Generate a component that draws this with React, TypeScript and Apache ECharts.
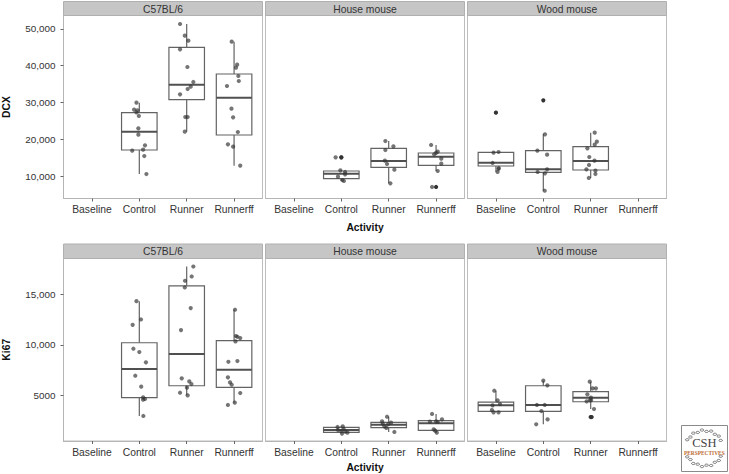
import React, { useEffect, useRef } from "react";
import * as echarts from "echarts";

const activities = ["Baseline", "Control", "Runner", "Runnerff"];
const strains = ["C57BL/6", "House mouse", "Wood mouse"];
const dcxTicks = [10000, 20000, 30000, 40000, 50000];
const dcxTickLabels = ["10,000", "20,000", "30,000", "40,000", "50,000"];
const ki67Ticks = [5000, 10000, 15000];
const ki67TickLabels = ["5000", "10,000", "15,000"];

// box rows: activity index, low whisker, q1, median, q3, high whisker
const dcxC57Boxes = [
  [1, 10540, 17070, 22060, 27230, 29950],
  [2, 22060, 30770, 34850, 45010, 51360],
  [3, 12810, 21160, 31310, 37750, 46550],
];
const dcxHouseBoxes = [
  [1, 8640, 9270, 10630, 11360, 11540],
  [2, 8000, 12360, 14080, 17530, 19520],
  [3, 11360, 12900, 15260, 16260, 18440],
];
const dcxWoodBoxes = [
  [0, 11090, 12720, 13630, 16440, 16530],
  [1, 6000, 11000, 11810, 16890, 21340],
  [2, 9460, 11630, 14080, 17980, 21790],
];
const ki67C57Boxes = [
  [1, 2960, 4770, 7600, 10200, 14310],
  [2, 5000, 5950, 9080, 15820, 17730],
  [3, 4280, 5790, 7530, 10400, 13460],
];
const ki67HouseBoxes = [
  [1, 1220, 1350, 1580, 1840, 1940],
  [2, 1380, 1810, 2100, 2330, 2890],
  [3, 1315, 1545, 2240, 2500, 3160],
];
const ki67WoodBoxes = [
  [0, 3320, 3420, 4010, 4340, 5460],
  [1, 2140, 3420, 4050, 5950, 6450],
  [2, 3650, 4370, 4770, 5360, 6350],
];

// jittered points: x position, value
const dcxC57Points = [
  [0.94, 29954], [0.89, 28050], [0.96, 27870], [0.94, 27320], [0.99, 26330], [0.98, 22970], [0.98, 21250], [1.12, 18340], [1.08, 17160], [0.85, 16890], [1.105, 15440], [1.15, 10540],
  [1.86, 51360], [1.96, 48180], [2.035, 46820], [1.86, 44470], [2.015, 39660], [2.14, 35580], [2.085, 34310], [2.02, 33670], [1.86, 32220], [1.97, 26050], [2.02, 26050], [1.96, 22060],
  [2.95, 46550], [3.065, 40290], [3.04, 39480], [3.09, 37210], [3.1, 35850], [2.85, 34490], [2.945, 28320], [2.98, 25960], [3.08, 21970], [2.87, 18620], [2.98, 17980], [3.13, 12810],
];
const dcxHousePoints = [
  [1.0, 15080], [0.98, 11540], [1.08, 11090], [1.08, 10450], [0.93, 9820], [1.02, 8910], [1.055, 8640], [0.88, 15080],
  [1.93, 19520], [2.1, 18070], [1.93, 17070], [1.92, 14170], [1.965, 13270], [2.12, 11720], [2.035, 8000],
  [2.895, 18440], [3.035, 16620], [2.96, 15900], [3.0, 16300], [3.11, 14720], [3.11, 13360], [3.035, 11360], [2.915, 7010],
];
const dcxWoodPoints = [
  [-0.05, 16350], [0.055, 16530], [-0.07, 13540], [0.06, 12180], [0.035, 11090], [0.055, 11900],
  [1.035, 21340], [0.875, 16890], [1.08, 15800], [1.08, 11810], [1.035, 10720], [0.88, 11090], [1.03, 6000],
  [2.085, 21790], [2.13, 19340], [2.085, 18530], [1.93, 17530], [1.97, 15170], [2.08, 14170], [1.965, 13000], [1.91, 11810], [2.1, 11450], [2.1, 10540], [1.96, 9460],
];
const ki67C57Points = [
  [0.94, 14310], [1.035, 12500], [0.86, 11970], [0.875, 9610], [1.0, 9280], [1.14, 8260], [0.915, 6940], [1.04, 5860], [1.08, 4800], [1.08, 4570], [1.12, 4640], [1.085, 2960],
  [2.14, 17730], [2.105, 16750], [1.965, 16320], [1.96, 15660], [2.085, 13620], [1.88, 11450], [1.895, 6680], [2.055, 6380], [2.1, 6120], [2.005, 5760], [1.86, 5260], [2.02, 5000],
  [3.02, 13460], [3.04, 10860], [3.07, 10790], [3.13, 10660], [3.03, 10330], [2.88, 8320], [3.07, 8390], [2.87, 6780], [2.915, 6280], [2.95, 6050], [3.13, 5230], [3.015, 4280], [2.87, 4050],
];
const ki67HousePoints = [
  [0.92, 1875], [1.03, 1940], [0.93, 1580], [1.05, 1680], [1.0, 1480], [1.085, 1410], [1.13, 1315], [1.015, 1220],
  [1.965, 2890], [1.86, 2430], [2.05, 2300], [1.875, 2200], [1.91, 1940], [1.95, 1780], [2.12, 1380], [1.99, 2150],
  [2.915, 3160], [3.125, 2630], [3.0, 2430], [2.87, 2400], [3.035, 2370], [2.95, 1640], [2.98, 1510], [3.015, 1315],
];
const ki67WoodPoints = [
  [-0.035, 5460], [0.035, 4510], [0.085, 4140], [-0.07, 4010], [-0.085, 3550], [-0.05, 3320], [0.055, 3320],
  [1.0, 6450], [1.085, 5990], [0.865, 4050], [1.03, 4050], [0.96, 3450], [1.09, 2630], [0.85, 2140],
  [1.98, 6350], [2.04, 5690], [2.11, 5690], [1.93, 5100], [2.005, 4770], [1.985, 4510], [1.915, 4410], [2.01, 4530], [2.07, 3650],
];

// outliers drawn by the box layer, in a darker tone
const dcxHouseOutliers = [[1, 15080], [3, 7010]];
const dcxWoodOutliers = [[0, 27230], [1, 30590]];
const ki67WoodOutliers = [[2, 2860], [2.02, 2860]];

const panelLefts = [63.5, 265.5, 467.5];
const panelWidth = 199;
const rows = [
  { top: 15.5, height: 183, min: 3878, max: 53673, ticks: dcxTicks, labels: dcxTickLabels, name: "DCX", stripTop: 1.5, nameGap: 23.5 },
  { top: 258.5, height: 182.5, min: 489, max: 18524, ticks: ki67Ticks, labels: ki67TickLabels, name: "Ki67", stripTop: 244, nameGap: 21 },
];
const boxes = [
  [dcxC57Boxes, dcxHouseBoxes, dcxWoodBoxes],
  [ki67C57Boxes, ki67HouseBoxes, ki67WoodBoxes],
];
const points = [
  [dcxC57Points, dcxHousePoints, dcxWoodPoints],
  [ki67C57Points, ki67HousePoints, ki67WoodPoints],
];
const outliers: number[][][][] = [
  [[], dcxHouseOutliers, dcxWoodOutliers],
  [[], [], ki67WoodOutliers],
];

const FONT = "'Liberation Sans', Arial, sans-serif";
const BOX = "#636363";

const renderBox = (_: any, api: any) => {
  const x = api.value(0);
  const [cx, low] = api.coord([x, api.value(1)]);
  const [, q1] = api.coord([x, api.value(2)]);
  const [, med] = api.coord([x, api.value(3)]);
  const [, q3] = api.coord([x, api.value(4)]);
  const [, high] = api.coord([x, api.value(5)]);
  const [l] = api.coord([x - 0.375, 0]);
  const [r] = api.coord([x + 0.375, 0]);
  const thin = { stroke: BOX, lineWidth: 1.2, fill: "none" };
  return {
    type: "group",
    children: [
      { type: "line", shape: { x1: cx, y1: q3, x2: cx, y2: high }, style: thin },
      { type: "line", shape: { x1: cx, y1: q1, x2: cx, y2: low }, style: thin },
      { type: "rect", shape: { x: l, y: q3, width: r - l, height: q1 - q3 }, style: thin },
      { type: "line", shape: { x1: l, y1: med, x2: r, y2: med }, style: { stroke: "#505050", lineWidth: 2 } },
    ],
  };
};

function buildOption() {
  const grid: any[] = [];
  const xAxis: any[] = [];
  const yAxis: any[] = [];
  const series: any[] = [];
  const graphic: any[] = [];

  rows.forEach((row, r) => {
    panelLefts.forEach((left, c) => {
      const idx = grid.length;
      grid.push({ left, top: row.top, width: panelWidth, height: row.height, show: true, borderColor: "#bdbdbd", borderWidth: 1, backgroundColor: "#fff", outerBoundsMode: "none" });
      xAxis.push({
        gridIndex: idx,
        type: "value",
        min: -0.6,
        max: 3.6,
        splitLine: { show: false },
        axisLine: { show: true, onZero: false, lineStyle: { color: "#b5b5b5", width: 1 } },
        axisTick: { show: true, length: 3, customValues: [0, 1, 2, 3], lineStyle: { color: "#666" } },
        axisLabel: {
          customValues: [0, 1, 2, 3],
          formatter: (v: number) => activities[Math.round(v)],
          color: "#333",
          fontSize: 10.3,
          fontFamily: FONT,
          margin: 6,
        },
        name: c === 1 ? "Activity" : "",
        nameLocation: "middle",
        nameGap: row.nameGap,
        nameTextStyle: { fontWeight: "bold", fontSize: 10.3, color: "#111", fontFamily: FONT },
      });
      yAxis.push({
        gridIndex: idx,
        type: "value",
        min: row.min,
        max: row.max,
        splitLine: { show: false },
        axisLine: { show: c === 0, onZero: false, lineStyle: { color: "#b5b5b5", width: 1 } },
        axisTick: { show: c === 0, length: 3, customValues: row.ticks, lineStyle: { color: "#666" } },
        axisLabel: {
          show: c === 0,
          customValues: row.ticks,
          formatter: (v: number) => row.labels[row.ticks.indexOf(v)],
          color: "#333",
          fontSize: 9.9,
          fontFamily: FONT,
          margin: 8,
        },
        name: c === 0 ? row.name : "",
        nameLocation: "middle",
        nameGap: 52,
        nameRotate: 90,
        nameTextStyle: { fontWeight: "bold", fontSize: 10.3, color: "#111", fontFamily: FONT },
      });
      series.push({
        type: "custom",
        xAxisIndex: idx,
        yAxisIndex: idx,
        data: boxes[r][c],
        encode: { x: 0, y: [1, 2, 3, 4, 5] },
        renderItem: renderBox,
        silent: true,
        z: 2,
      });
      series.push({
        type: "scatter",
        xAxisIndex: idx,
        yAxisIndex: idx,
        data: points[r][c],
        symbolSize: 4.2,
        itemStyle: { color: "#333", opacity: 0.68 },
        silent: true,
        z: 3,
      });
      if (outliers[r][c].length) {
        series.push({
          type: "scatter",
          xAxisIndex: idx,
          yAxisIndex: idx,
          data: outliers[r][c],
          symbolSize: 4.2,
          itemStyle: { color: "#333", opacity: 1 },
          silent: true,
          z: 4,
        });
      }
      graphic.push({
        type: "rect",
        shape: { x: left, y: row.stripTop, width: panelWidth, height: row.top - row.stripTop },
        style: { fill: "#c6c6c6", stroke: "#b0b0b0", lineWidth: 1 },
      });
      graphic.push({
        type: "text",
        x: left + panelWidth / 2,
        y: (row.top + row.stripTop) / 2 + 0.5,
        style: { text: strains[c], fill: "#333", font: `10.3px ${FONT}`, align: "center", verticalAlign: "middle" },
      });
    });
  });

  // publisher's badge, bottom right
  const cx = 704.3;
  const cy = 448.3;
  graphic.push({ type: "rect", shape: { x: 681.5, y: 425.5, width: 46, height: 46 }, style: { fill: "#fff", stroke: "#8a8a8a", lineWidth: 1 } });
  for (let k = 0; k < 26; k++) {
    const a = (k / 26) * Math.PI * 2;
    const sin = Math.sin(a);
    if (Math.abs(sin) < 0.35) continue;
    const rx = 18.5 + (k % 2) * 0.8;
    const ry = 17 + (k % 2) * 1.4;
    graphic.push({
      type: "ellipse",
      shape: { cx: cx + Math.cos(a) * rx, cy: cy + sin * ry, rx: 1.8, ry: 1.1 },
      style: { fill: "none", stroke: "#444", lineWidth: 0.7 },
    });
  }
  graphic.push({ type: "text", x: cx, y: 442.5, style: { text: "CSH", fill: "#444", font: "12.5px 'Liberation Serif', serif", align: "center", verticalAlign: "middle" } });
  graphic.push({ type: "text", x: cx, y: 453, style: { text: "PERSPECTIVES", fill: "#bd6c32", font: "bold 5.4px 'Liberation Serif', serif", align: "center", verticalAlign: "middle" } });

  return { animation: false, backgroundColor: "#fff", grid, xAxis, yAxis, series, graphic };
}

export default function App() {
  const ref = useRef<HTMLDivElement>(null);
  useEffect(() => {
    document.body.style.margin = "0";
    const chart = echarts.init(ref.current!, undefined, { renderer: "svg" });
    chart.setOption(buildOption() as any);
    return () => chart.dispose();
  }, []);
  return <div ref={ref} style={{ width: 729, height: 474 }} />;
}
